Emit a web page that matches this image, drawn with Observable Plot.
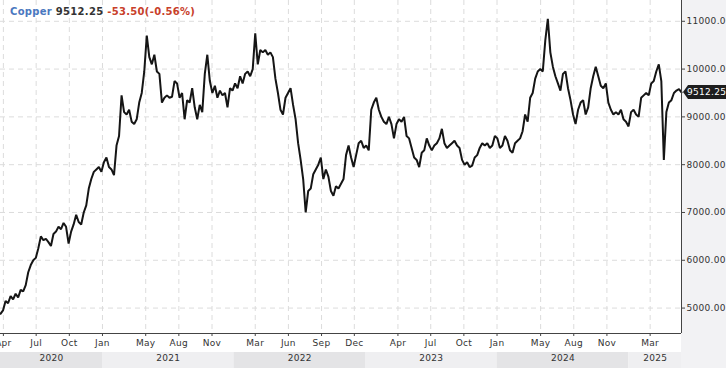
<!DOCTYPE html>
<html><head><meta charset="utf-8">
<script src="https://cdn.jsdelivr.net/npm/d3@7"></script>
<script src="https://cdn.jsdelivr.net/npm/@observablehq/plot@0.6"></script>
<style>
body{margin:0;background:#fff;}
#chart svg{display:block;}
#chart svg text{letter-spacing:0.3px;}
</style>
</head><body><div id="chart"></div><script>
// ---- data ----
const seriesName = "Copper";
const lastPrice = 9512.25;
const change = "-53.50(-0.56%)";
const startDate = "2020-03-24"; // first weekly close
// weekly closes
const prices = [
4880,4950,5150,5100,5250,5180,5300,5220,5380,5350,
5480,5750,5900,6000,6050,6250,6500,6420,6450,6380,
6300,6550,6600,6700,6650,6780,6700,6350,6600,6750,
6950,6800,6750,7000,7150,7500,7700,7850,7900,7950,
7850,8050,8150,7950,7900,7780,8400,8600,9450,9100,
9050,9150,8900,8850,8950,9300,9500,9950,10700,10250,
10100,10300,9950,9900,9300,9400,9450,9400,9420,9750,
9700,9400,9500,8950,9350,9300,9600,9200,8950,9250,
9100,9900,10300,9750,9500,9650,9400,9550,9450,9500,
9200,9600,9550,9700,9600,9850,9700,9900,9950,9850,
10000,10750,10100,10400,10350,10400,10300,10350,10250,9800,
9500,9150,9050,9400,9500,9600,9250,8950,8450,8100,
7700,7000,7450,7500,7800,7900,8000,8150,7700,7900,
7750,7450,7350,7550,7500,7600,7700,8200,8400,8150,
7950,8200,8450,8500,8350,8400,8300,9150,9300,9400,
9150,9000,8900,8850,9000,8850,8550,8850,8950,8900,
9000,8600,8550,8350,8150,8100,7950,8250,8300,8550,
8400,8300,8400,8450,8550,8750,8450,8350,8400,8450,
8500,8400,8350,8100,8000,8050,7950,7980,8150,8200,
8350,8450,8400,8450,8350,8400,8600,8550,8350,8400,
8600,8500,8300,8250,8450,8500,8550,8700,9050,8900,
9400,9500,9800,9950,10000,9950,10600,11050,10350,10050,
9850,9700,9550,9900,9950,9600,9350,9050,8850,9150,
9300,9350,9050,9200,9600,9850,10050,9850,9650,9600,
9700,9300,9150,9050,9100,9050,9150,8950,8900,8800,
9100,9150,9050,9000,9400,9450,9500,9450,9700,9750,
9950,10100,9750,8100,9100,9300,9350,9500,9550,9580,
9512.25
];
const monthTicks = ["2020-04-01","2020-07-01","2020-10-01","2021-01-01","2021-05-01","2021-08-01","2021-11-01",
  "2022-03-01","2022-06-01","2022-09-01","2022-12-01","2023-04-01","2023-07-01","2023-10-01",
  "2024-01-01","2024-05-01","2024-08-01","2024-11-01","2025-03-01"];
const years = [2020,2021,2022,2023,2024,2025];
const yTicks = [5000,6000,7000,8000,9000,10000,11000];

// ---- build ----
const DAY = 864e5;
const t0 = new Date(startDate + "T00:00:00Z").getTime();
const data = prices.map((v,i)=>({date:new Date(t0 + i*7*DAY), value:v}));
const xDomain = [data[0].date, data[data.length-1].date];
const yDomain = [4468, 11435];
const monthDates = monthTicks.map(s=>new Date(s+"T00:00:00Z"));
const yearBands = years.map(y=>{
  const a = new Date(Date.UTC(y,0,1)), b = new Date(Date.UTC(y+1,0,1));
  const x1 = a < xDomain[0] ? xDomain[0] : a, x2 = b > xDomain[1] ? xDomain[1] : b;
  return {year:y, x1, x2, mid:new Date((+x1 + +x2)/2)};
});

const plot = Plot.plot({
  width:726, height:368,
  marginTop:0, marginLeft:0, marginRight:45, marginBottom:35,
  style:{fontFamily:"DejaVu Sans, sans-serif", fontSize:"9px", color:"#333", background:"#fff", overflow:"visible"},
  x:{type:"utc", domain:xDomain, axis:null},
  y:{domain:yDomain, axis:null},
  marks:[
    Plot.gridY(yTicks, {stroke:"#dcdcdc", strokeOpacity:1, strokeDasharray:"5,4"}),
    Plot.gridX(monthDates, {stroke:"#dcdcdc", strokeOpacity:1, strokeDasharray:"5,4"}),
    Plot.lineY(data, {x:"date", y:"value", stroke:"#151515", strokeWidth:2, strokeLinejoin:"miter"}),
    Plot.ruleY([yDomain[0]], {stroke:"#444"}),
    Plot.ruleX([xDomain[1]], {stroke:"#444"}),
    Plot.axisY(yTicks, {anchor:"right", tickSize:3, tickPadding:2, label:null, tickFormat:d=>d.toFixed(2), stroke:"#444"}),
    Plot.axisX(monthDates, {anchor:"bottom", tickSize:3, tickPadding:3, label:null, tickFormat:d3.utcFormat("%b"), stroke:"#444"}),
    Plot.axisX(yearBands.map(d=>d.mid), {anchor:"bottom", tickSize:0, tickPadding:21, label:null, tickFormat:d=>String(d.getUTCFullYear())})
  ]
});
document.getElementById("chart").appendChild(plot);

// decorations using the plot's scales
const sx = plot.scale("x"), sy = plot.scale("y");
const svg = d3.select(plot);
const xRight = sx.apply(xDomain[1]);
const bg = svg.insert("g", ":first-child");
bg.append("rect").attr("x", xRight).attr("y", 0).attr("width", 726 - xRight).attr("height", 368).attr("fill", "#f2f2f4");
yearBands.forEach((b,i)=>{
  bg.append("rect").attr("x", sx.apply(b.x1)).attr("y", 352)
    .attr("width", sx.apply(b.x2) - sx.apply(b.x1)).attr("height", 16)
    .attr("fill", i % 2 === 0 ? "#e4e4e6" : "#efeff1");
});

// title
const title = svg.append("text").attr("x", 10).attr("y", 15).attr("text-anchor", "start")
  .attr("font-size", 10).attr("font-weight", "bold").attr("font-family", "DejaVu Sans, sans-serif");
title.append("tspan").attr("fill", "#4a78c0").text(seriesName + " ");
title.append("tspan").attr("fill", "#333").text(lastPrice.toFixed(2) + " ");
title.append("tspan").attr("fill", "#c8402a").text(change);

// last price tag
const yc = sy.apply(lastPrice);
svg.append("path")
  .attr("d", `M${xRight+2},${yc} L${xRight+7},${yc-7} L726,${yc-7} L726,${yc+7} L${xRight+7},${yc+7} Z`)
  .attr("fill", "#1e1e1e");
svg.append("text").attr("x", xRight+6).attr("y", yc+3.5).attr("fill", "#fff").attr("text-anchor", "start")
  .attr("font-size", 9).attr("font-family", "DejaVu Sans, sans-serif").text(lastPrice.toFixed(2));
</script></body></html>
